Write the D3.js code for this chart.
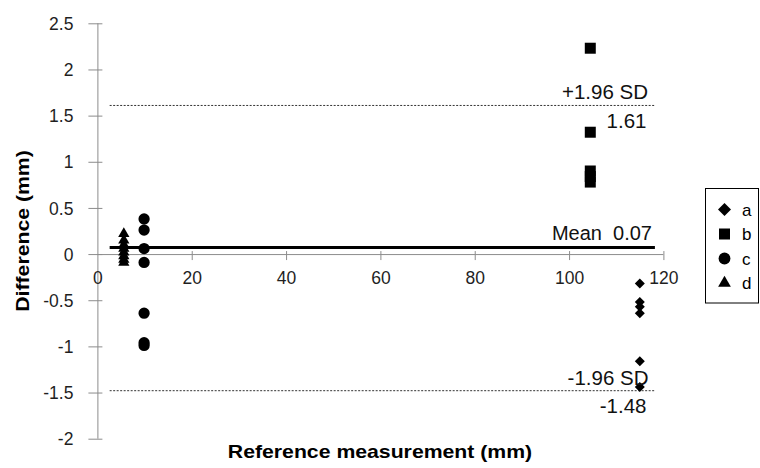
<!DOCTYPE html>
<html>
<head>
<meta charset="utf-8">
<script src="https://cdn.jsdelivr.net/npm/d3@7"></script>
<style>
  html, body { margin: 0; padding: 0; background: #fff; }
  svg { display: block; font-family: "Liberation Sans", Arial, sans-serif; }
</style>
</head>
<body>
<svg id="chart" width="760" height="468"></svg>
<script>
// ---- data ----
const xTicks = [0, 20, 40, 60, 80, 100, 120];
const yTicks = [-2, -1.5, -1, -0.5, 0, 0.5, 1, 1.5, 2, 2.5];
const seriesNames = ["a", "b", "c", "d"];
const aX = [115, 115, 115, 115, 115, 115];
const aY = [-0.32, -0.52, -0.57, -0.64, -1.16, -1.44];
const bX = [104.5, 104.5, 104.5, 104.5, 104.5];
const bY = [2.23, 1.32, 0.90, 0.84, 0.78];
const cX = [9.9, 9.9, 9.9, 9.9, 9.9, 9.9, 9.9];
const cY = [0.38, 0.26, 0.06, -0.09, -0.64, -0.96, -0.99];
const dX = [5.6, 5.6, 5.6, 5.6, 5.6, 5.6, 5.6, 5.6];
const dY = [0.22, 0.15, 0.10, 0.06, 0.02, -0.02, -0.06, -0.09];
const meanValue = 0.07;
const upperLimit = 1.61;
const lowerLimit = -1.48;
const lineStartX = 2.6;
const lineEndX = 118.2;
const labelX = 116.6;

// ---- layout ----
const svg = d3.select("#chart");
const x = d3.scaleLinear().domain([0, 120]).range([97.4, 663.4]);
const y = d3.scaleLinear().domain([-2, 2.5]).range([438.7, 23.3]);
const axisColor = "#8c8c8c";
const textColor = "#1f1f1f";

// y axis
const yAxis = svg.append("g").attr("transform", `translate(${x(0)},0)`)
  .call(d3.axisLeft(y).tickValues(yTicks).tickSize(9).tickFormat(d => String(d)));
yAxis.select(".domain").attr("stroke", axisColor).attr("d", `M0.5,${y(-2)}V${y(2.5)}`);
yAxis.selectAll(".tick line").attr("stroke", axisColor).attr("x1", 5).attr("x2", -9);
yAxis.selectAll(".tick text").attr("fill", textColor).attr("x", -24).attr("dy", "0.35em")
  .style("font-size", "17.5px").style("font-family", "Liberation Sans, Arial, sans-serif");

// x axis at y = 0
const xAxis = svg.append("g").attr("transform", `translate(0,${y(0)})`)
  .call(d3.axisBottom(x).tickValues(xTicks).tickSize(6).tickFormat(d => String(d)));
xAxis.select(".domain").attr("stroke", axisColor).attr("d", `M${x(0)},0.5H${x(120)}`);
xAxis.selectAll(".tick line").attr("stroke", axisColor).attr("y1", -3).attr("y2", 6)
  .filter(d => d === 0).remove();
xAxis.selectAll(".tick text").attr("fill", textColor).attr("y", 30).attr("dy", 0)
  .style("font-size", "17.5px").style("font-family", "Liberation Sans, Arial, sans-serif");

// limit lines
[upperLimit, lowerLimit].forEach(v => {
  svg.append("line")
    .attr("x1", x(lineStartX)).attr("x2", x(lineEndX))
    .attr("y1", y(v)).attr("y2", y(v))
    .attr("stroke", "#333").attr("stroke-width", 1).attr("stroke-dasharray", "2,1.5");
});
// mean line
svg.append("line")
  .attr("x1", x(lineStartX)).attr("x2", x(lineEndX))
  .attr("y1", y(meanValue)).attr("y2", y(meanValue))
  .attr("stroke", "#000").attr("stroke-width", 3);

// markers
const diamondPath = s => `M0,${-s}L${s},0L0,${s}L${-s},0Z`;
const sq = d3.symbol().type(d3.symbolSquare).size(121)();
const circ = d3.symbol().type(d3.symbolCircle).size(100)();
const tri = d3.symbol().type(d3.symbolTriangle).size(55)();

function drawSeries(xs, ys, path) {
  svg.append("g").selectAll("path").data(ys).join("path")
    .attr("d", path)
    .attr("transform", (v, i) => `translate(${x(xs[i])},${y(v)})`)
    .attr("fill", "#000");
}
drawSeries(aX, aY, diamondPath(5));
drawSeries(bX, bY, sq);
drawSeries(cX, cY, circ);
drawSeries(dX, dY, tri);

// annotations
const ann = svg.append("g").attr("font-size", "20.5px").attr("fill", "#111").attr("text-anchor", "end");
ann.append("text").attr("x", 648).attr("y", y(upperLimit) - 6).text("+1.96 SD");
ann.append("text").attr("x", 646.5).attr("y", y(upperLimit) + 23).text(upperLimit.toFixed(2));
ann.append("text").attr("x", 652).attr("y", y(meanValue) - 8).attr("font-size", "20px")
  .attr("xml:space", "preserve").text("Mean  0.07");
ann.append("text").attr("x", 648.5).attr("y", y(lowerLimit) - 6).text("-1.96 SD");
ann.append("text").attr("x", 646.5).attr("y", y(lowerLimit) + 22).text(lowerLimit.toFixed(2));

// axis titles (text is drawn slightly widened, as in the reference)
svg.append("text").attr("transform", "translate(380,458) scale(1.18,1)").attr("text-anchor", "middle")
  .attr("font-weight", "bold").attr("font-size", "18px").attr("fill", "#000")
  .text("Reference measurement (mm)");
svg.append("text").attr("transform", "translate(29,231) rotate(-90) scale(1.18,1)").attr("text-anchor", "middle")
  .attr("font-weight", "bold").attr("font-size", "18px").attr("fill", "#000")
  .text("Difference (mm)");

// legend
const legend = svg.append("g");
legend.append("rect").attr("x", 705.5).attr("y", 188.5).attr("width", 53).attr("height", 114.5)
  .attr("fill", "#fff").attr("stroke", "#000").attr("stroke-width", 1);
const legendShapes = [diamondPath(6.5), d3.symbol().type(d3.symbolSquare).size(121)(),
  d3.symbol().type(d3.symbolCircle).size(110)(), d3.symbol().type(d3.symbolTriangle).size(70)()];
seriesNames.forEach((name, i) => {
  const cy = 209.5 + i * 24.5;
  legend.append("path").attr("d", legendShapes[i]).attr("transform", `translate(724.5,${cy})`).attr("fill", "#000");
  legend.append("text").attr("x", 742).attr("y", cy + 6).attr("font-size", "17px").attr("fill", "#000").text(name);
});
</script>
</body>
</html>
